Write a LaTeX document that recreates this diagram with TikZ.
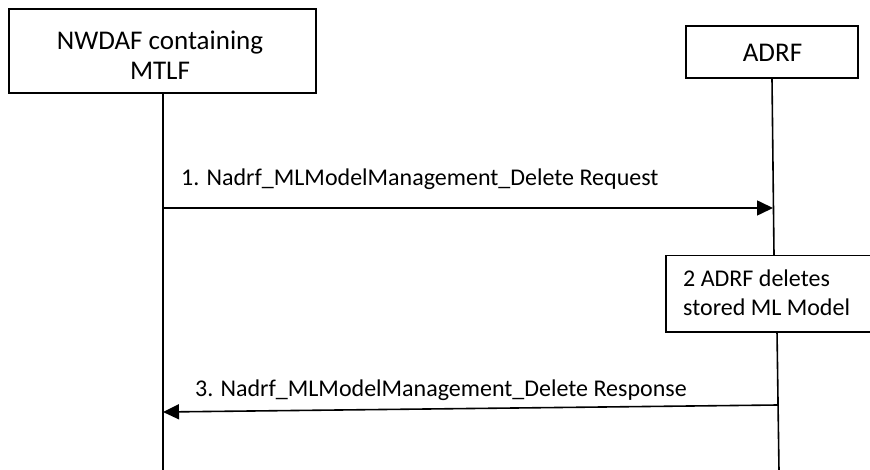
\documentclass[tikz,border=0pt]{standalone}
\usepackage{fontspec}
\setmainfont{Carlito}
\usetikzlibrary{arrows.meta}
\tikzset{
  lbox/.style={draw=black, line width=1.5pt, inner sep=0pt, fill=white},
  hdr/.style={font=\fontsize{27}{31}\selectfont, inner sep=0pt, anchor=base},
  msgtxt/.style={font=\fontsize{24}{29}\selectfont, inner sep=0pt, anchor=base west},
  life/.style={draw=black, line width=1.6pt},
  msg/.style={draw=black, line width=1.6pt, -{Triangle[length=16pt, width=15pt]}}
}
\begin{document}
\begin{tikzpicture}[x=1pt, y=-1pt]
\useasboundingbox (0,0) rectangle (870,470);
% participant boxes
\node[lbox, minimum width=307pt, minimum height=84pt] (nwdaf) at (162.5,51) {};
\node[hdr] (nwdaf1) at (160,50) {NWDAF containing};
\node[hdr] (nwdaf2) at (160,80) {MTLF};
\node[lbox, minimum width=172pt, minimum height=52pt] (adrf) at (772,52) {};
\node[hdr] (adrft) at (772.5,62) {ADRF};
% lifeline coordinates
\coordinate (lb) at (163,471);
\coordinate (ra) at (774,255);
\coordinate (rb) at (777,331);
\coordinate (rc) at (779,471);
\coordinate (m1s) at (163,208);
\coordinate (m1e) at (773,208);
\coordinate (m3s) at (778,405);
\coordinate (m3e) at (163,412);
% lifelines
\draw[life] (nwdaf.south -| lb) -- (lb);
\draw[life] (adrf.south) -- (ra);
\draw[life] (rb) -- (rc);
% step 2 box
\node[lbox, anchor=north west, minimum width=215pt, minimum height=76pt] (step2) at (665,255) {};
\node[msgtxt] (step2a) at (683,287) {2 ADRF deletes};
\node[msgtxt] (step2b) at (683,316) {stored ML Model};
% messages
\draw[msg] (m1s) -- (m1e);
\node[msgtxt] (m1t) at (181,186) {1. Nadrf\_MLModelManagement\_Delete Request};
\draw[msg] (m3s) -- (m3e);
\node[msgtxt] (m3t) at (195,396) {3. Nadrf\_MLModelManagement\_Delete Response};
\end{tikzpicture}
\end{document}
